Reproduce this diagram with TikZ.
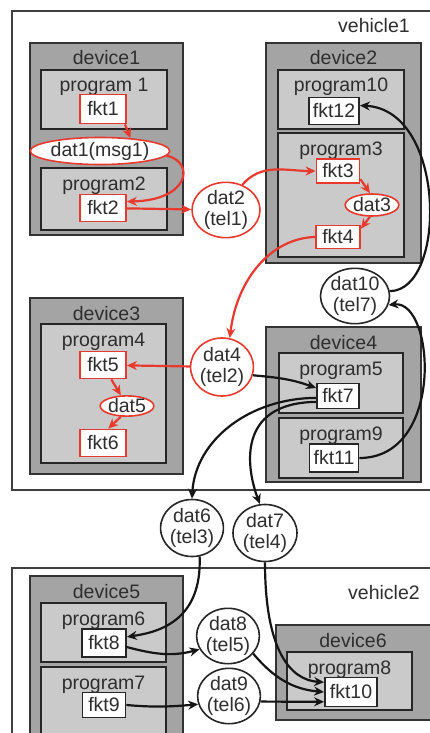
\documentclass[tikz,border=0pt]{standalone}
\usepackage{fontspec}
\setmainfont{Liberation Sans}
\usetikzlibrary{shapes.geometric,arrows.meta}
\definecolor{myred}{HTML}{E8392E}
\definecolor{txt}{HTML}{2E2E2E}
\definecolor{devgray}{HTML}{A4A4A4}
\definecolor{proggray}{HTML}{CACACA}
\definecolor{edgec}{HTML}{151515}
\tikzset{
  veh/.style={draw=black!75, line width=1.5pt, fill=white},
  dev/.style={draw=black!80, line width=1.7pt, fill=devgray},
  prog/.style={draw=black!85, line width=2pt, fill=proggray},
  lbl/.style={anchor=base, inner sep=0pt},
  fk/.style={draw=black!85, fill=white, line width=1.8pt, inner sep=0pt, minimum width=46pt, minimum height=27pt},
  fkr/.style={fk, draw=myred},
  dat/.style={ellipse, draw=black!85, fill=white, line width=1.6pt, inner sep=0pt, align=center, font=\fontsize{19.5}{21}\selectfont},
  datr/.style={dat, draw=myred},
  arr/.style={-{Stealth[length=10pt,width=9pt]}, line width=2.2pt, draw=edgec},
  arrr/.style={arr, draw=myred, -{Stealth[length=10pt,width=9pt,fill=myred]}},
}
\begin{document}
\begin{tikzpicture}[x=1pt,y=-1pt, every node/.style={text=txt, font=\fontsize{19.5}{21}\selectfont}]
\useasboundingbox (0,0) rectangle (430,733);
\clip (0,0) rectangle (430,733);
\fill[white] (0,0) rectangle (430,733);
% vehicles
\path[veh] (12,11) rectangle (445,490);
\path[veh] (12,568) rectangle (445,750);
\node[lbl] (v1) at (374,33) {vehicle1};
\node[lbl] (v2) at (384,599) {vehicle2};
% devices
\path[dev] (30,43) rectangle (183,235);
\path[dev] (266,43) rectangle (421,263);
\path[dev] (30,298) rectangle (183,474);
\path[dev] (266,327) rectangle (421,482);
\path[dev] (30,576) rectangle (183,750);
\path[dev] (276,625) rectangle (445,720);
\node[lbl] (d1) at (106.5,65) {device1};
\node[lbl] (d2) at (343.5,65) {device2};
\node[lbl] (d3) at (106.5,320) {device3};
\node[lbl] (d4) at (343.5,349) {device4};
\node[lbl] (d5) at (106.5,598) {device5};
\node[lbl] (d6) at (353,647) {device6};
% programs
\path[prog] (41,70) rectangle (167,129);
\path[prog] (41,168) rectangle (167,230);
\path[prog] (278,70) rectangle (404,129);
\path[prog] (278,133) rectangle (404,257);
\path[prog] (41,324) rectangle (166,463);
\path[prog] (279,353) rectangle (403,413);
\path[prog] (279,418) rectangle (403,478);
\path[prog] (41,603) rectangle (166,662);
\path[prog] (41,667) rectangle (166,750);
\path[prog] (287,652) rectangle (412,710);
\node[lbl] (p1) at (104,92) {program 1};
\node[lbl] (p2) at (104,190) {program2};
\node[lbl] (p10) at (341,92) {program10};
\node[lbl] (p3) at (341,155) {program3};
\node[lbl] (p4) at (103.5,346) {program4};
\node[lbl] (p5) at (341,375) {program5};
\node[lbl] (p9) at (341,440) {program9};
\node[lbl] (p6) at (103.5,625) {program6};
\node[lbl] (p7) at (103.5,689) {program7};
\node[lbl] (p8) at (349.5,674) {program8};
% functions
\node[fkr, minimum height=29pt] (fkt1) at (103,109) {fkt1};
\node[fkr] (fkt2) at (103,208) {fkt2};
\node[fk, minimum width=50pt] (fkt12) at (334,111) {fkt12};
\node[fkr, minimum width=43pt, minimum height=24pt] (fkt3) at (338,171) {fkt3};
\node[fkr, minimum width=44pt, minimum height=23pt] (fkt4) at (338,237) {fkt4};
\node[fkr] (fkt5) at (103,365) {fkt5};
\node[fkr] (fkt6) at (103,443) {fkt6};
\node[fk, minimum width=42pt, minimum height=25pt] (fkt7) at (338,396) {fkt7};
\node[fk, minimum width=49pt, minimum height=28pt] (fkt11) at (334,458) {fkt11};
\node[fk, minimum width=44pt, minimum height=28pt] (fkt8) at (104,643) {fkt8};
\node[fk, minimum width=43pt, minimum height=25pt] (fkt9) at (104,705) {fkt9};
\node[fk, minimum width=52pt, minimum height=29pt] (fkt10) at (351,692) {fkt10};
% data
\node[datr, minimum width=117pt, minimum height=27pt] (dat1) at (100,151) {dat1(msg1)};
\node[datr, minimum width=68pt, minimum height=55pt] (dat2) at (226,210) {dat2\\(tel1)};
\node[datr, minimum width=46pt, minimum height=22pt] (dat3) at (372,205) {dat3};
\node[datr, minimum width=60pt, minimum height=58pt] (dat4) at (222,367) {dat4\\(tel2)};
\node[datr, minimum width=46pt, minimum height=20pt] (dat5) at (127,406) {dat5};
\node[dat, minimum width=59pt, minimum height=57pt] (dat6) at (192,528) {dat6\\(tel3)};
\node[dat, minimum width=64pt, minimum height=57pt] (dat7) at (265,533) {dat7\\(tel4)};
\node[dat, minimum width=54pt, minimum height=50pt] (dat8) at (228,636) {dat8\\(tel5)};
\node[dat, minimum width=59pt, minimum height=50pt] (dat9) at (229,696) {dat9\\(tel6)};
\node[dat, minimum width=69pt, minimum height=44pt] (dat10) at (355,296) {dat10\\(tel7)};
% red connectors
\draw[arrr] (fkt1.-35) -- (dat1.23);
\draw[arrr] (dat1.-4) .. controls (195,162) and (190,200) .. (fkt2.15);
\draw[arrr] (fkt2) -- (dat2);
\draw[arrr] (dat2.57) to[out=50,in=180] (fkt3.west);
\draw[arrr] (fkt3.-20) -- (dat3.100);
\draw[arrr] (dat3.-100) -- (fkt4.20);
\draw[arrr] (fkt4.west) .. controls (272,238) and (237,278) .. (dat4.75);
\draw[arrr] (dat4) -- (fkt5);
\draw[arrr] (fkt5.-60) -- (dat5.120);
\draw[arrr] (dat5.-120) -- (fkt6.70);
% black connectors
\draw[arr] (dat4.-15) to[out=-5,in=160] (fkt7.160);
\draw[arr] (fkt7.185) .. controls (250,398) and (195,440) .. (dat6.north);
\draw[arr] (fkt7.195) .. controls (235,403) and (247,470) .. (dat7.100);
\draw[arr] (dat6.-75) .. controls (202,620) and (160,632) .. (fkt8.15);
\draw[arr] (fkt8.-10) to[out=-15,in=195] (dat8.-155);
\draw[arr] (fkt9.east) to[out=-5,in=185] (dat9.-165);
\draw[arr] (dat7.south) .. controls (265,650) and (290,680) .. (fkt10.160);
\draw[arr] (dat8.-35) to[out=-50,in=175] (fkt10.west);
\draw[arr] (dat9.-10) -- (fkt10.-160);
\draw[arr] (fkt11.east) .. controls (445,458) and (435,300) .. (dat10.-15);
\draw[arr] (dat10.8) .. controls (447,291) and (447,110) .. (fkt12.12);
\end{tikzpicture}
\end{document}
